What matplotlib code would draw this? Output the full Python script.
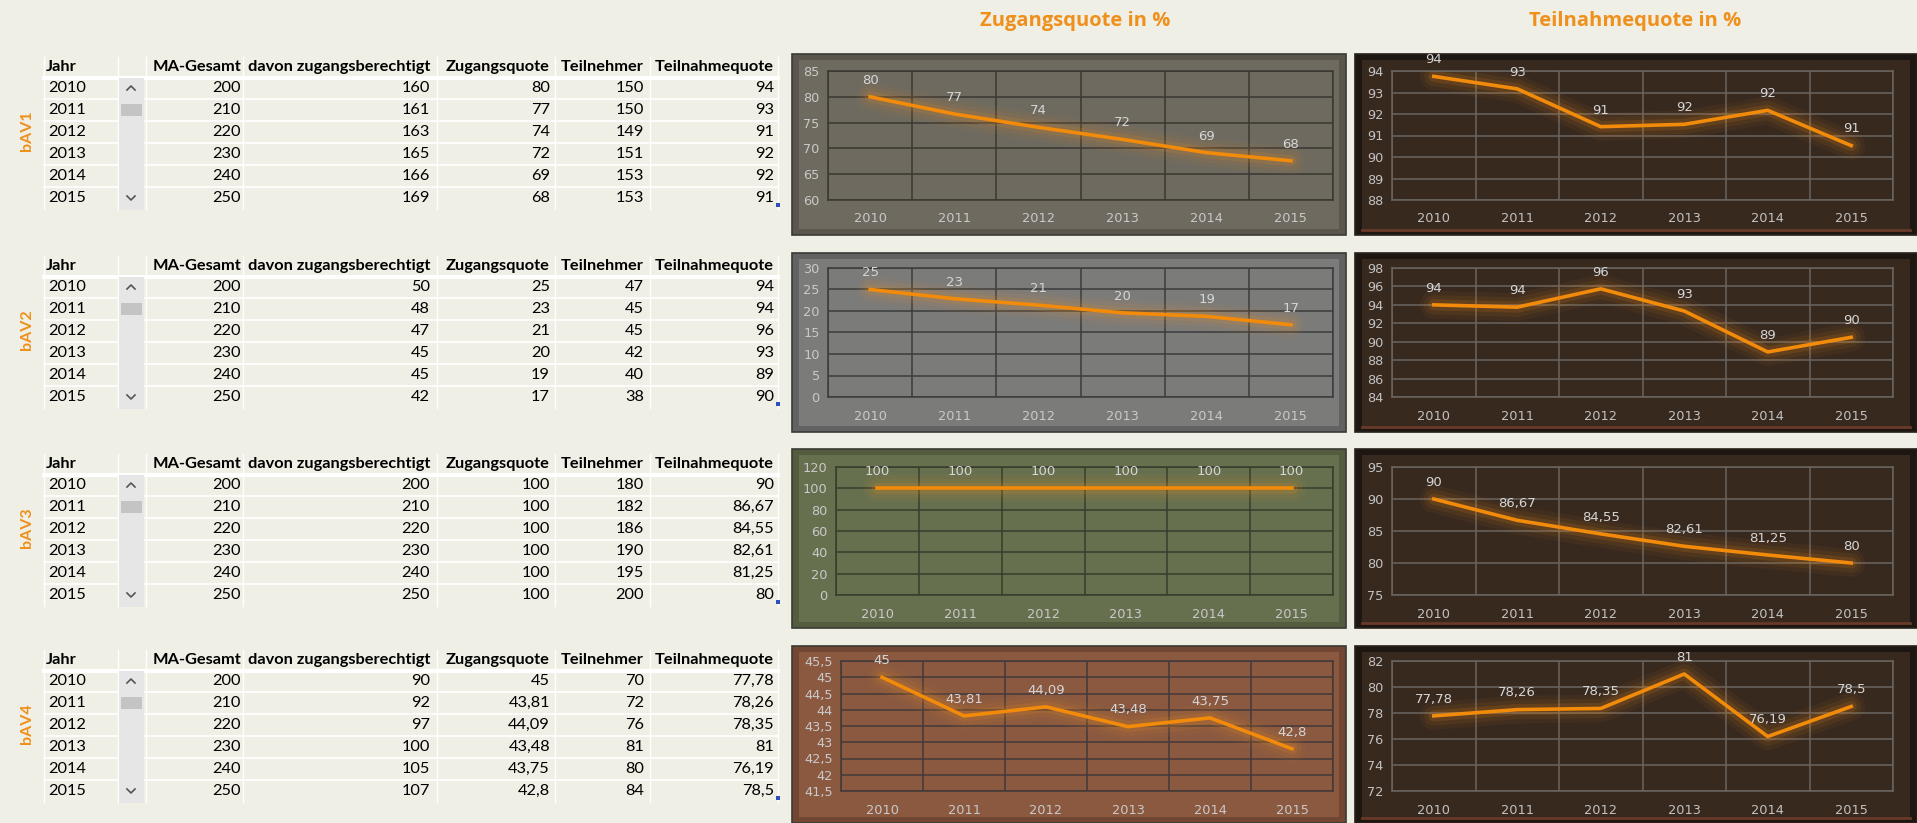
import matplotlib
matplotlib.use('Agg')
import matplotlib.pyplot as plt
from matplotlib.patches import Rectangle
import numpy as np

years = [2010, 2011, 2012, 2013, 2014, 2015]
ma_gesamt = [200, 210, 220, 230, 240, 250]

bav1_berechtigt = [160, 161, 163, 165, 166, 169]
bav1_zugang = [80, 76.67, 74.09, 71.74, 69.17, 67.6]
bav1_teilnehmer = [150, 150, 149, 151, 153, 153]
bav1_teilnahme = [93.75, 93.17, 91.41, 91.52, 92.17, 90.53]

bav2_berechtigt = [50, 48, 47, 45, 45, 42]
bav2_zugang = [25, 22.86, 21.36, 19.57, 18.75, 16.8]
bav2_teilnehmer = [47, 45, 45, 42, 40, 38]
bav2_teilnahme = [94, 93.75, 95.74, 93.33, 88.89, 90.48]

bav3_berechtigt = [200, 210, 220, 230, 240, 250]
bav3_zugang = [100, 100, 100, 100, 100, 100]
bav3_teilnehmer = [180, 182, 186, 190, 195, 200]
bav3_teilnahme = [90, 86.67, 84.55, 82.61, 81.25, 80]

bav4_berechtigt = [90, 92, 97, 100, 105, 107]
bav4_zugang = [45, 43.81, 44.09, 43.48, 43.75, 42.8]
bav4_teilnehmer = [70, 72, 76, 81, 80, 84]
bav4_teilnahme = [77.78, 78.26, 78.35, 81, 76.19, 78.5]

blocks = ['bAV1', 'bAV2', 'bAV3', 'bAV4']
berechtigt = [bav1_berechtigt, bav2_berechtigt, bav3_berechtigt, bav4_berechtigt]
zugang = [bav1_zugang, bav2_zugang, bav3_zugang, bav4_zugang]
teilnehmer = [bav1_teilnehmer, bav2_teilnehmer, bav3_teilnehmer, bav4_teilnehmer]
teilnahme = [bav1_teilnahme, bav2_teilnahme, bav3_teilnahme, bav4_teilnahme]
decimals = [0, 0, 2, 2]

headers = ['MA-Gesamt', 'davon zugangsberechtigt', 'Zugangsquote', 'Teilnehmer', 'Teilnahmequote']

zug_ticks = [np.arange(60, 86, 5), np.arange(0, 31, 5), np.arange(0, 121, 20), np.arange(41.5, 45.6, 0.5)]
teil_ticks = [np.arange(88, 95, 1), np.arange(84, 99, 2), np.arange(75, 96, 5), np.arange(72, 83, 2)]

W, H = 1917, 823
BG = '#EFEFE5'
ORANGE = '#F0901C'
TABLE_FONT = ['Lato', 'DejaVu Sans']
TS = 11.8


def fmt(v, d):
    s = f'{v:.{d}f}'
    if '.' in s:
        s = s.rstrip('0').rstrip('.')
    return s.replace('.', ',')


fig = plt.figure(figsize=(W / 100, H / 100), dpi=100, facecolor=BG)
bg = fig.add_axes([0, 0, 1, 1])
bg.set_xlim(0, W)
bg.set_ylim(H, 0)
bg.axis('off')


def fax(x0, y0, x1, y1):
    return fig.add_axes([x0 / W, 1 - y1 / H, (x1 - x0) / W, (y1 - y0) / H])


# titles
bg.text(1075, 21, 'Zugangsquote in %', color=ORANGE, fontsize=14.5, fontweight='bold',
        ha='center', va='center', family='Open Sans')
bg.text(1635, 21, 'Teilnahmequote in %', color=ORANGE, fontsize=14.5, fontweight='bold',
        ha='center', va='center', family='Open Sans')

header_y = [67, 266, 464, 660]
col_right = [241, 430, 550, 644, 774]
row_h = 22

for b in range(4):
    hy = header_y[b]
    rows = [hy + 21 + row_h * k for k in range(6)]
    # cell borders
    for x in [44, 118, 146, 243, 437, 555, 650, 778]:
        bg.plot([x, x], [hy - 10, rows[-1] + 11], color='white', lw=1, zorder=1)
    bg.plot([44, 778], [hy + 11, hy + 11], color='white', lw=3, zorder=1)
    for k in range(5):
        bg.plot([44, 778], [rows[k] + 11, rows[k] + 11], color='white', lw=1.2, zorder=1)

    # scroll bar
    bg.add_patch(Rectangle((119, hy + 11), 25, 6 * row_h, facecolor='#E6E6E6', edgecolor='none', zorder=2))
    bg.add_patch(Rectangle((121, rows[1] - 6), 21, 12, facecolor='#C4C4C4', edgecolor='none', zorder=3))
    bg.plot([127, 131, 135], [rows[0] + 2, rows[0] - 2, rows[0] + 2], color='#555555', lw=1.2, zorder=3)
    bg.plot([127, 131, 135], [rows[5] - 2, rows[5] + 2, rows[5] - 2], color='#555555', lw=1.2, zorder=3)

    # header
    bg.text(46, hy, 'Jahr', fontsize=TS, fontweight='bold', family=TABLE_FONT, va='center', ha='left', zorder=4)
    for h, xr in zip(headers, col_right):
        bg.text(xr, hy, h, fontsize=TS, fontweight='bold', family=TABLE_FONT, va='center', ha='right', zorder=4)

    d = decimals[b]
    for k in range(6):
        y = rows[k]
        vals = [str(ma_gesamt[k]), str(berechtigt[b][k]), fmt(zugang[b][k], d),
                str(teilnehmer[b][k]), fmt(teilnahme[b][k], d)]
        bg.text(48, y, str(years[k]), fontsize=TS, family=TABLE_FONT, va='center', ha='left', zorder=4)
        for v, xr in zip(vals, col_right):
            bg.text(xr, y, v, fontsize=TS, family=TABLE_FONT, va='center', ha='right', zorder=4)
    bg.add_patch(Rectangle((776, rows[5] + 5), 4, 4, facecolor='#2F4FC0', edgecolor='none', zorder=4))

    # block label
    bg.text(27, hy + 64, blocks[b], color=ORANGE, fontsize=11.5, fontweight='bold', family=TABLE_FONT,
            rotation=90, ha='center', va='center')

# charts
frame_y = [(54, 235), (253, 432), (449, 628), (646, 823)]
plot_y = [(71, 200), (268, 397), (467, 595), (661, 791)]
zug_left = [828, 828, 836, 841]
zug_bg = ['#6E6A5F', '#7B7B7A', '#66704F', '#8A5940']
zug_edge = ['#5A564D', '#626262', '#535C3F', '#714633']
zug_grid = ['#3A3833', '#3C3C3C', '#363D2B', '#44393A']
teil_bg = '#38291F'
teil_edge = '#1E1611'
teil_grid = '#6A6560'


def draw_chart(ax, values, ticks, d, grid_color, tick_color):
    ax.patch.set_alpha(0)
    x = np.arange(len(years))
    for lw, a in [(20, 0.05), (14, 0.08), (8, 0.14)]:
        ax.plot(x, values, color=ORANGE, lw=lw, alpha=a, solid_capstyle='round', zorder=2)
    ax.plot(x, values, color='#F28A0A', lw=2.6, zorder=3)
    for i, v in enumerate(values):
        ax.annotate(fmt(v, d), (i, v), xytext=(0, 12), textcoords='offset points',
                    ha='center', va='center', color='#D6D6D6', fontsize=9.5, zorder=4)
    ax.set_xlim(-0.5, len(years) - 0.5)
    ax.set_ylim(ticks[0], ticks[-1])
    ax.set_yticks(ticks)
    ax.set_yticklabels([fmt(t, 1) for t in ticks])
    ax.set_xticks(x)
    ax.set_xticklabels([str(yr) for yr in years])
    ax.set_xticks(np.arange(-0.5, len(years), 1), minor=True)
    ax.grid(axis='y', which='major', color=grid_color, lw=1.1, zorder=1)
    ax.grid(axis='x', which='minor', color=grid_color, lw=1.1, zorder=1)
    ax.tick_params(axis='both', which='both', length=0, colors=tick_color, labelsize=9.3)
    ax.tick_params(axis='x', pad=9)
    ax.tick_params(axis='y', pad=6)
    for s in ax.spines.values():
        s.set_color(grid_color)
        s.set_linewidth(1.1)


for b in range(4):
    fy0, fy1 = frame_y[b]
    py0, py1 = plot_y[b]
    # Zugangsquote frame
    bg.add_patch(Rectangle((792, fy0), 1346 - 792, fy1 - fy0, facecolor=zug_edge[b], edgecolor='#3A3A36', lw=1.2))
    bg.add_patch(Rectangle((799, fy0 + 6), 1346 - 792 - 14, fy1 - fy0 - 12, facecolor=zug_bg[b], edgecolor='none'))
    # Teilnahmequote frame
    bg.add_patch(Rectangle((1355, fy0), W - 1355, fy1 - fy0, facecolor=teil_edge, edgecolor='#2A211B', lw=1.2))
    bg.add_patch(Rectangle((1362, fy0 + 6), W - 1355 - 14, fy1 - fy0 - 12, facecolor=teil_bg, edgecolor='none'))
    bg.plot([1362, W - 7], [fy1 - 5, fy1 - 5], color='#6A3A2A', lw=2)

    ax1 = fax(zug_left[b], py0, 1333, py1)
    draw_chart(ax1, zugang[b], zug_ticks[b], decimals[b], zug_grid[b], '#C9C9C9')
    ax2 = fax(1392, py0, 1893, py1)
    draw_chart(ax2, teilnahme[b], teil_ticks[b], decimals[b], teil_grid, '#C2C2C2')

fig.savefig('out.png', dpi=100, facecolor=BG)
